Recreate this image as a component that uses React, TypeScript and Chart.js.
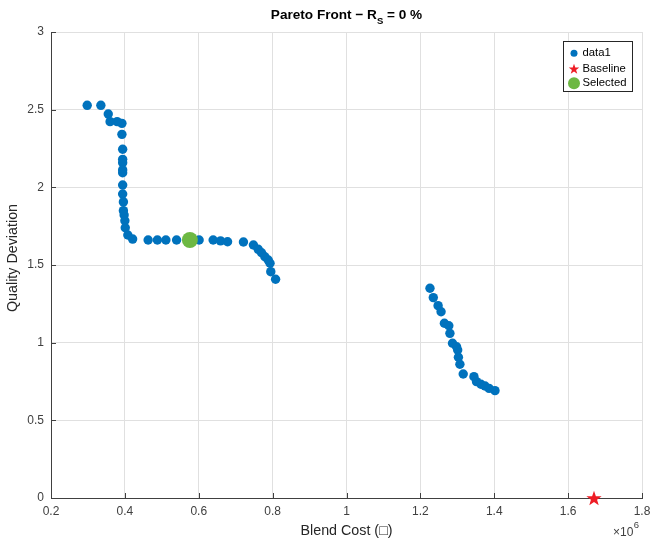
import React, { useEffect, useRef } from "react";
import { Chart, registerables } from "chart.js";

Chart.register(...registerables);

// Blend cost in millions (axis shows ×10^6), quality deviation
const paretoCost = [
  0.298, 0.335, 0.355, 0.36, 0.379, 0.392, 0.392, 0.394, 0.394, 0.394,
  0.394, 0.394, 0.394, 0.394, 0.396, 0.396, 0.398, 0.4, 0.401, 0.408,
  0.421, 0.463, 0.488, 0.511, 0.54, 0.576, 0.601, 0.639, 0.659, 0.678,
  0.721, 0.748, 0.761, 0.77, 0.779, 0.788, 0.793, 0.795, 0.808,
  1.226, 1.235, 1.248, 1.256, 1.265, 1.277, 1.28, 1.287, 1.298, 1.301,
  1.303, 1.307, 1.316, 1.345, 1.352, 1.364, 1.375, 1.386, 1.402,
];
const paretoQuality = [
  2.528, 2.528, 2.472, 2.423, 2.423, 2.412, 2.341, 2.245, 2.18, 2.159,
  2.112, 2.094, 2.015, 1.957, 1.906, 1.85, 1.822, 1.785, 1.74, 1.693,
  1.667, 1.661, 1.661, 1.661, 1.661, 1.661, 1.661, 1.661, 1.655, 1.65,
  1.648, 1.629, 1.601, 1.579, 1.553, 1.532, 1.511, 1.457, 1.408,
  1.35, 1.29, 1.238, 1.199, 1.125, 1.109, 1.06, 0.996, 0.974, 0.953,
  0.906, 0.861, 0.798, 0.781, 0.749, 0.732, 0.721, 0.706, 0.691,
];
const baselineCost = [1.67];
const baselineQuality = [0];
const selectedCost = [0.576];
const selectedQuality = [1.661];

const seriesNames = ["data1", "Baseline", "Selected"];
const titleHead = "Pareto Front − R";
const titleSub = "S";
const titleTail = " = 0 %";
const xTitle = "Blend Cost (□)";
const yTitle = "Quality Deviation";
const xExponent = "6";

const BLUE = "#0072BD";
const RED = "#EE1C25";
const GREEN = "#6DB843";
const AXIS = "#404040";
const GRID = "#e0e0e0";
const FONT = "'Liberation Sans', Arial, sans-serif";

function starPath(ctx: CanvasRenderingContext2D, cx: number, cy: number, R: number) {
  const r = R * 0.4;
  ctx.beginPath();
  for (let i = 0; i < 10; i++) {
    const rad = i % 2 === 0 ? R : r;
    const a = -Math.PI / 2 + (i * Math.PI) / 5;
    const px = cx + rad * Math.cos(a);
    const py = cy + R * 0.1 + rad * Math.sin(a);
    if (i === 0) ctx.moveTo(px, py);
    else ctx.lineTo(px, py);
  }
  ctx.closePath();
}

function makeStar(R: number, color: string): HTMLCanvasElement {
  const size = Math.ceil(R * 2 + 2);
  const c = document.createElement("canvas");
  c.width = size;
  c.height = size;
  const ctx = c.getContext("2d")!;
  starPath(ctx, size / 2, size / 2, R);
  ctx.fillStyle = color;
  ctx.fill();
  return c;
}

const decorPlugin = {
  id: "decor",
  afterDraw(chart: any) {
    const ctx: CanvasRenderingContext2D = chart.ctx;
    const area = chart.chartArea;
    const xs = chart.scales.x;
    const ys = chart.scales.y;
    ctx.save();

    // inward tick marks
    ctx.strokeStyle = AXIS;
    ctx.lineWidth = 1;
    ctx.beginPath();
    xs.ticks.forEach((t: any) => {
      const px = Math.round(xs.getPixelForValue(t.value)) + 0.5;
      ctx.moveTo(px, area.bottom);
      ctx.lineTo(px, area.bottom - 5);
    });
    ys.ticks.forEach((t: any) => {
      const py = Math.round(ys.getPixelForValue(t.value)) + 0.5;
      ctx.moveTo(area.left, py);
      ctx.lineTo(area.left + 5, py);
    });
    ctx.stroke();

    // title with subscript
    const cx = (area.left + area.right) / 2;
    const fMain = `bold 13.6px ${FONT}`;
    const fSub = `bold 9.5px ${FONT}`;
    ctx.font = fMain;
    const w1 = ctx.measureText(titleHead).width;
    const w3 = ctx.measureText(titleTail).width;
    ctx.font = fSub;
    const w2 = ctx.measureText(titleSub).width;
    let x0 = cx - (w1 + w2 + w3) / 2;
    ctx.fillStyle = "#000";
    ctx.textBaseline = "middle";
    ctx.textAlign = "left";
    ctx.font = fMain;
    ctx.fillText(titleHead, x0, 15);
    x0 += w1;
    ctx.font = fSub;
    ctx.fillText(titleSub, x0, 21);
    x0 += w2;
    ctx.font = fMain;
    ctx.fillText(titleTail, x0, 15);

    // axis titles
    ctx.fillStyle = "#262626";
    ctx.font = `14.3px ${FONT}`;
    ctx.textAlign = "center";
    ctx.fillText(xTitle, cx, 531);
    ctx.save();
    ctx.translate(13, 258);
    ctx.rotate(-Math.PI / 2);
    ctx.fillText(yTitle, 0, 0);
    ctx.restore();

    // ×10^6
    ctx.fillStyle = AXIS;
    ctx.textAlign = "left";
    ctx.font = `12px ${FONT}`;
    const base = "×10";
    const wb = ctx.measureText(base).width;
    ctx.fillText(base, 613, 532.5);
    ctx.font = `9.5px ${FONT}`;
    ctx.fillText(xExponent, 613 + wb + 0.5, 525.5);

    // legend
    const lx = 563.5, ly = 41.5, lw = 69, lh = 50;
    ctx.fillStyle = "#fff";
    ctx.fillRect(lx, ly, lw, lh);
    ctx.strokeStyle = "#262626";
    ctx.lineWidth = 1;
    ctx.strokeRect(lx, ly, lw, lh);
    const rows = [53.3, 68.7, 83.3];
    ctx.fillStyle = BLUE;
    ctx.beginPath();
    ctx.arc(574, rows[0], 3.5, 0, Math.PI * 2);
    ctx.fill();
    starPath(ctx, 574, rows[1], 5.5);
    ctx.fillStyle = RED;
    ctx.fill();
    ctx.fillStyle = GREEN;
    ctx.beginPath();
    ctx.arc(574, rows[2], 6, 0, Math.PI * 2);
    ctx.fill();
    ctx.fillStyle = "#000";
    ctx.font = `11.3px ${FONT}`;
    ctx.textAlign = "left";
    ctx.textBaseline = "middle";
    seriesNames.forEach((n, i) => ctx.fillText(n, 582.5, rows[i]));

    ctx.restore();
  },
};

export default function App() {
  const ref = useRef<HTMLCanvasElement | null>(null);

  useEffect(() => {
    if (!ref.current) return;
    const star = makeStar(8, RED);
    const toPts = (xs: number[], ys: number[]) => xs.map((x, i) => ({ x, y: ys[i] }));
    const chart = new Chart(ref.current, {
      type: "scatter",
      data: {
        datasets: [
          {
            label: seriesNames[2],
            data: toPts(selectedCost, selectedQuality),
            backgroundColor: GREEN,
            borderWidth: 0,
            pointRadius: 8,
            order: 0,
            clip: false,
          },
          {
            label: seriesNames[1],
            data: toPts(baselineCost, baselineQuality),
            pointStyle: star as any,
            pointRadius: 8,
            backgroundColor: RED,
            borderWidth: 0,
            order: 1,
            clip: false,
          },
          {
            label: seriesNames[0],
            data: toPts(paretoCost, paretoQuality),
            backgroundColor: BLUE,
            borderWidth: 0,
            pointRadius: 4.7,
            order: 2,
            clip: false,
          },
        ],
      },
      options: {
        responsive: false,
        animation: false,
        layout: { padding: { top: 32, right: 8, left: 0, bottom: 0 } },
        plugins: {
          legend: { display: false },
          tooltip: { enabled: false },
          title: { display: false },
        },
        scales: {
          x: {
            type: "linear",
            min: 0.2,
            max: 1.8,
            ticks: {
              stepSize: 0.2,
              color: AXIS,
              font: { family: FONT, size: 12 },
              padding: 6,
              maxRotation: 0,
              callback: (v: any) => String(Math.round(Number(v) * 10) / 10),
            },
            grid: { color: GRID, drawTicks: false },
            border: { display: true, color: AXIS },
            afterFit: (s: any) => {
              s.height = 42;
              s.paddingLeft = 0;
              s.paddingRight = 0;
            },
          },
          y: {
            type: "linear",
            min: 0,
            max: 3,
            ticks: {
              stepSize: 0.5,
              color: AXIS,
              font: { family: FONT, size: 12 },
              padding: 7,
              callback: (v: any) => String(Math.round(Number(v) * 10) / 10),
            },
            grid: { color: GRID, drawTicks: false },
            border: { display: true, color: AXIS },
            afterFit: (s: any) => {
              s.width = 51;
              s.paddingTop = 0;
              s.paddingBottom = 0;
            },
          },
        },
      },
      plugins: [decorPlugin],
    });
    return () => chart.destroy();
  }, []);

  return (
    <div style={{ position: "fixed", left: 0, top: 0, width: 650, height: 540, background: "#fff" }}>
      <canvas ref={ref} width={650} height={540} style={{ display: "block" }} />
    </div>
  );
}
